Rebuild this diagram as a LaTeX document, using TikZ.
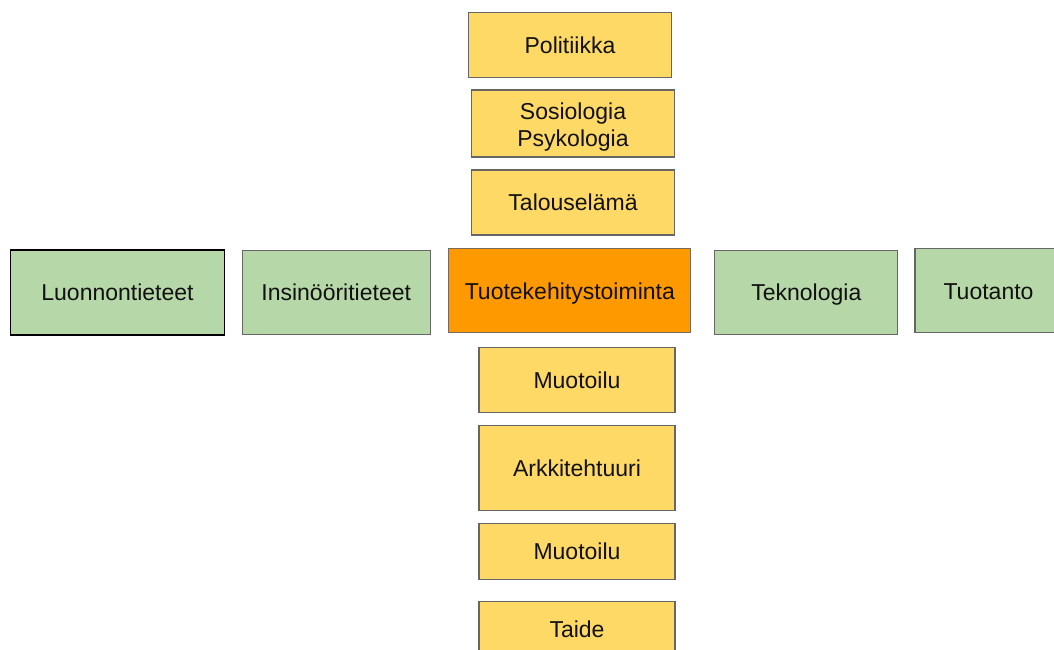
\documentclass[tikz,border=0pt]{standalone}
\usepackage{fontspec}
\setmainfont{Liberation Sans}
\definecolor{boxyellow}{HTML}{FFD966}
\definecolor{boxgreen}{HTML}{B6D7A8}
\definecolor{boxorange}{HTML}{FF9900}
\definecolor{edgegray}{HTML}{666666}
\definecolor{inkblack}{HTML}{111111}
\tikzset{
  field/.style={draw=edgegray, line width=1.2pt, inner sep=0pt, anchor=center,
    text=inkblack, font=\fontsize{23}{27}\selectfont,
    text height=16.5pt, text depth=0pt},
  yellowbox/.style={field, fill=boxyellow},
  greenbox/.style={field, fill=boxgreen},
  orangebox/.style={field, fill=boxorange},
}
\begin{document}
\begin{tikzpicture}[x=1pt, y=-1pt]
\useasboundingbox (0,0) rectangle (1054,650);
% upper column
\node[yellowbox, minimum width=203pt, minimum height=65pt] (politiikka) at (570,45) {Politiikka};
\node[yellowbox, minimum width=203pt, minimum height=67pt, align=center, text height=46pt] (sosio) at (573,123.5) {Sosiologia\\Psykologia};
\node[yellowbox, minimum width=203pt, minimum height=65pt] (talous) at (573,202.5) {Talouselämä};
% middle row
\node[greenbox, draw=black, minimum width=214pt, minimum height=85pt] (luonnon) at (117.5,292.5) {Luonnontieteet};
\node[greenbox, minimum width=188pt, minimum height=84pt] (insinoori) at (336.2,292.7) {Insinööritieteet};
\node[orangebox, draw=edgegray!80!brown, minimum width=242pt, minimum height=84pt] (tuote) at (569.8,290.8) {Tuotekehitystoiminta};
\node[greenbox, minimum width=183pt, minimum height=84pt] (tekno) at (806.3,292.2) {Teknologia};
\node[greenbox, minimum width=147pt, minimum height=84pt] (tuotanto) at (988.5,290.8) {Tuotanto};
% lower column
\node[yellowbox, minimum width=196pt, minimum height=65pt] (muotoilu) at (577,380) {Muotoilu};
\node[yellowbox, minimum width=196pt, minimum height=85pt] (arkki) at (577,468.3) {Arkkitehtuuri};
\node[yellowbox, minimum width=196pt, minimum height=56pt] (muotoilub) at (577,551.3) {Muotoilu};
\node[yellowbox, minimum width=196pt, minimum height=56pt] (taide) at (577,629.7) {Taide};
\end{tikzpicture}
\end{document}
